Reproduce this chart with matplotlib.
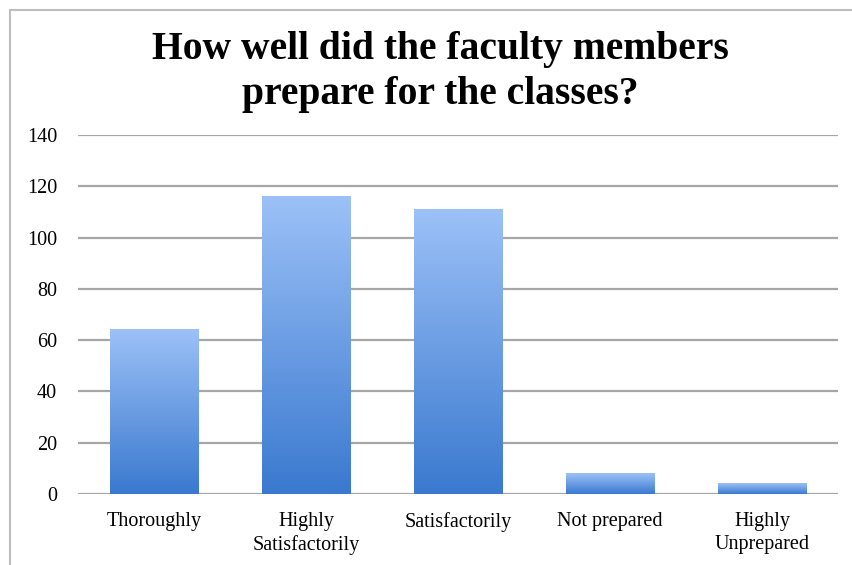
import matplotlib
matplotlib.use('Agg')
import matplotlib.pyplot as plt
import numpy as np
from matplotlib.colors import LinearSegmentedColormap
from matplotlib.patches import Rectangle

categories = ['Thoroughly', 'Highly\nSatisfactorily', 'Satisfactorily', 'Not prepared', 'Highly\nUnprepared']
values = [64, 116, 111, 8, 4]
yticks = [0, 20, 40, 60, 80, 100, 120, 140]
title = 'How well did the faculty members\nprepare for the classes?'

plt.rcParams['font.family'] = ['Liberation Serif', 'DejaVu Serif']

W, H = 852, 565
fig = plt.figure(figsize=(W / 100, H / 100), dpi=100)
ax = fig.add_axes([78 / W, 1 - 494 / H, 760 / W, (494 - 135) / H])

cmap = LinearSegmentedColormap.from_list('g', ['#3a79cf', '#9cc1f7'])
x = np.arange(len(values))
bars = ax.bar(x, values, width=0.58, color='none', edgecolor='none', zorder=2)
grad = np.linspace(0, 1, 256).reshape(-1, 1)
for b in bars:
    x0, y0 = b.get_x(), b.get_y()
    w, h = b.get_width(), b.get_height()
    ax.imshow(grad, cmap=cmap, aspect='auto', extent=[x0, x0 + w, y0, y0 + h],
              origin='lower', zorder=2, interpolation='bilinear')

ax.set_xlim(-0.5, len(values) - 0.5)
ax.set_ylim(0, 140)
ax.set_yticks(yticks)
ax.set_xticks(x)
ax.set_xticklabels(categories, fontsize=14.5, linespacing=1.3)
ax.tick_params(axis='y', labelsize=14.5, length=0, pad=15)
ax.tick_params(axis='x', length=0, pad=13)
ax.yaxis.grid(True, color='#a6a6a6', lw=1.6)
ax.set_axisbelow(True)
for s in ax.spines.values():
    s.set_visible(False)

fig.add_artist(Rectangle((10 / W, -0.2), 1.3, 1.2 - 10 / H, transform=fig.transFigure,
                         fill=False, edgecolor='#bdbdbd', lw=1.5))

fig.text(440 / W, 1 - 72 / H, title, ha='center', va='center', fontsize=28.5,
         fontweight='bold', linespacing=1.27)

fig.savefig('out.png', dpi=100)
